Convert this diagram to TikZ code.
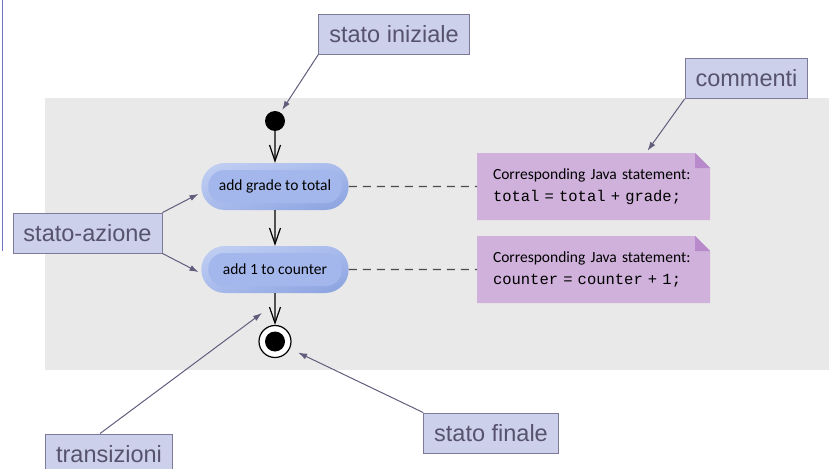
\documentclass[tikz,border=0pt]{standalone}
\usepackage{fontspec}
\setmainfont{Liberation Sans}
\setmonofont{Liberation Mono}
\newfontfamily\umlfont{Carlito}
\usetikzlibrary{arrows.meta,shapes.misc,shadings}

\definecolor{panel}{HTML}{E9E9E9}
\definecolor{sideline}{HTML}{6F73C6}
\definecolor{boxfill}{HTML}{CDD0EA}
\definecolor{boxline}{HTML}{7D7A99}
\definecolor{boxtext}{HTML}{57536E}
\definecolor{arrowgrey}{HTML}{625D7D}
\definecolor{notefill}{HTML}{CFB1DB}
\definecolor{notefold}{HTML}{B98ACB}
\definecolor{actlight}{HTML}{C3D0F3}
\definecolor{actmid}{HTML}{A8BBEC}
\definecolor{actdark}{HTML}{8AA1DF}
\definecolor{actinner}{HTML}{A3B7EC}

\begin{document}
\begin{tikzpicture}[x=1pt, y=-1pt, node distance=2cm,
    callbox/.style={draw=boxline, fill=boxfill, line width=0.9pt, text=boxtext,
        font=\fontsize{23.5}{28}\selectfont, inner xsep=10.5pt, minimum height=40pt},
    callout/.style={draw=arrowgrey, line width=1pt, -{Latex[length=9pt,width=6pt]}},
    trans/.style={draw=black, line width=1.2pt, -{Straight Barb[length=16pt,width=11pt]}},
    link/.style={draw=black!70, line width=1.3pt, dash pattern=on 8pt off 6pt},
    startstate/.style={circle, fill=black, minimum size=20pt, inner sep=0pt},
    endstate/.style={circle, draw=black, line width=1.2pt, fill=white, minimum size=32pt, inner sep=0pt,
        path picture={\fill[black] (path picture bounding box.center) circle (10pt);}},
    actstate/.style={rounded rectangle, minimum width=154pt, minimum height=47pt,
        upper left=actlight, upper right=actmid, lower left=actmid, lower right=actdark,
        font=\umlfont\fontsize{15.5}{18}\selectfont,
        path picture={\fill[actinner, rounded corners=16pt]
            ([shift={(7pt,-7pt)}]path picture bounding box.north west) rectangle
            ([shift={(-7pt,7pt)}]path picture bounding box.south east);}},
    notebox/.style={minimum width=233pt, minimum height=67pt, inner xsep=16pt, text width=201pt,
        align=left, font=\umlfont\fontsize{15.5}{22}\selectfont,
        path picture={
            \fill[notefill] (path picture bounding box.south west) -- (path picture bounding box.north west)
                -- ([xshift=-15pt]path picture bounding box.north east)
                -- ([yshift=-15pt]path picture bounding box.north east)
                -- (path picture bounding box.south east) -- cycle;
            \fill[notefold] ([xshift=-15pt]path picture bounding box.north east)
                -- ([xshift=-15pt,yshift=-15pt]path picture bounding box.north east)
                -- ([yshift=-15pt]path picture bounding box.north east) -- cycle;}}]
    \useasboundingbox (0,0) rectangle (829,468);

    % background
    \fill[panel] (45,98) rectangle (829,370);
    \draw[sideline, line width=1.5pt] (2.5,0) -- (2.5,251);

    % activity
    \node(init) [startstate] at (275,121) {};
    \node(act1) [actstate, node distance=65.5pt, below of=init] {add grade to total};
    \node(act2) [actstate, node distance=83pt, below of=act1]   {add 1 to counter};
    \node(fin)  [endstate, node distance=72pt, below of=act2]   {};

    % notes
    \node(note1) [notebox, node distance=318.5pt, right of=act1]
        {Corresponding Java statement:\\\texttt{total = total + grade;}};
    \node(note2) [notebox, node distance=318.5pt, right of=act2]
        {Corresponding Java statement:\\\texttt{counter = counter + 1;}};

    % labels
    \node(inizio)   [callbox] at (394,34)    {stato iniziale};
    \node(commenti) [callbox] at (746.5,78.5) {commenti};
    \node(azione)   [callbox] at (87.5,233)  {stato-azione};
    \node(transiz)  [callbox] at (109,454)   {transizioni};
    \node(finale)   [callbox] at (491,433)   {stato finale};
    \coordinate(trpt) at (262,313);

    % transitions
    \draw [trans] (init) -- (act1);
    \draw [trans] (act1) -- (act2);
    \draw [trans] (act2) -- (fin);
    \draw [link] (act1) -- (note1);
    \draw [link] (act2) -- (note2);

    % label arrows
    \draw [callout, shorten >=3pt] (inizio.south west) -- (init);
    \draw [callout] (commenti.south west) -- ([xshift=54pt,yshift=2pt]note1.north);
    \draw [callout, shorten >=3pt] (azione.north east) -- ([yshift=-6pt]act1.west);
    \draw [callout, shorten >=3pt] (azione.south east) -- ([yshift=-4pt]act2.west);
    \draw [callout] ([xshift=-9pt]transiz.north) -- (trpt);
    \draw [callout, shorten >=9pt] (finale.north west) -- (fin);
\end{tikzpicture}
\end{document}
